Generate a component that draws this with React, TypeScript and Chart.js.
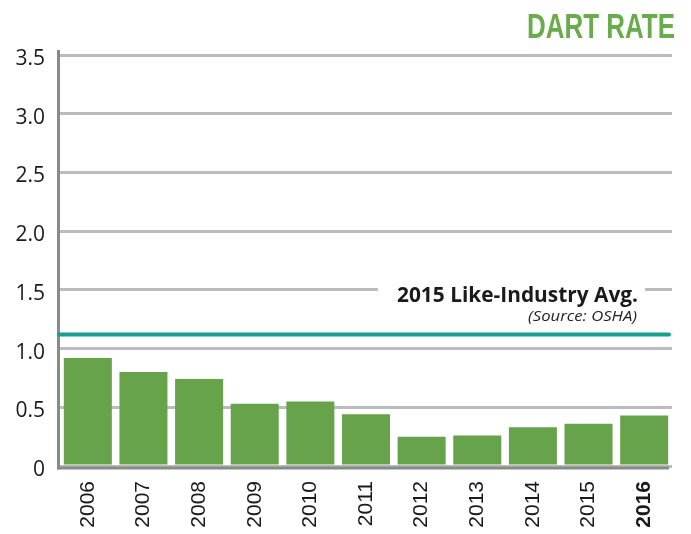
import React, { useEffect, useRef } from "react";
import { Chart, registerables } from "chart.js";

Chart.register(...registerables);

const categories = ["2006", "2007", "2008", "2009", "2010", "2011", "2012", "2013", "2014", "2015", "2016"];
const dartRates = [0.92, 0.8, 0.74, 0.53, 0.55, 0.44, 0.25, 0.26, 0.33, 0.36, 0.43];
const industryAvg = 1.12;
const yTicks = [0, 0.5, 1.0, 1.5, 2.0, 2.5, 3.0, 3.5];
const titleText = "DART RATE";
const avgLabel = "2015 Like-Industry Avg.";
const avgSource = "(Source: OSHA)";

const GREEN = "#67a34b";
const TITLE_GREEN = "#6aab4c";
const TEAL = "#17a08f";
const GRID = "#babcbf";
const AXIS = "#8a8a8a";

function drawScaledText(ctx: CanvasRenderingContext2D, text: string, font: string, color: string, rightX: number, baseY: number, width: number) {
  ctx.save();
  ctx.font = font;
  ctx.fillStyle = color;
  ctx.textAlign = "right";
  ctx.textBaseline = "alphabetic";
  const w = ctx.measureText(text).width;
  const s = width / w;
  ctx.translate(rightX, baseY);
  ctx.scale(s, 1);
  ctx.fillText(text, 0, 0);
  ctx.restore();
}

const overlayPlugin = {
  id: "overlay",
  afterDatasetsDraw(chart: any) {
    const ctx: CanvasRenderingContext2D = chart.ctx;
    const area = chart.chartArea;
    const y = chart.scales.y;
    ctx.save();
    ctx.strokeStyle = AXIS;
    ctx.lineWidth = 3;
    ctx.beginPath();
    ctx.moveTo(area.left - 1.5, area.top - 5);
    ctx.lineTo(area.left - 1.5, area.bottom + 3.5);
    ctx.stroke();
    ctx.beginPath();
    ctx.moveTo(area.left - 3, area.bottom + 2);
    ctx.lineTo(area.right - 3, area.bottom + 2);
    ctx.stroke();
    const ay = y.getPixelForValue(industryAvg);
    ctx.strokeStyle = TEAL;
    ctx.lineWidth = 4;
    ctx.lineCap = "round";
    ctx.beginPath();
    ctx.moveTo(area.left - 1, ay);
    ctx.lineTo(area.right - 3, ay);
    ctx.stroke();
    ctx.fillStyle = "#ffffff";
    ctx.fillRect(378, ay - 56, 267, 30);
    ctx.restore();
    drawScaledText(ctx, avgLabel, "bold 21px 'Open Sans'", "#1a1a1a", 638, ay - 32, 241);
    drawScaledText(ctx, avgSource, "italic 15px 'Open Sans'", "#222222", 637, ay - 13, 109);
    drawScaledText(ctx, titleText, "bold 35px 'Liberation Sans Narrow', 'Liberation Sans'", TITLE_GREEN, 675, 37.5, 148);
  },
};

export default function App() {
  const ref = useRef<HTMLCanvasElement | null>(null);
  useEffect(() => {
    if (!ref.current) return;
    const chart = new Chart(ref.current, {
      type: "bar",
      data: {
        labels: categories,
        datasets: [
          {
            data: dartRates,
            backgroundColor: GREEN,
            borderWidth: 0,
            barPercentage: 0.863,
            categoryPercentage: 1,
          },
        ],
      },
      options: {
        animation: false,
        responsive: true,
        maintainAspectRatio: false,
        layout: { padding: { top: 55, right: 19, left: 0, bottom: 0 } },
        plugins: { legend: { display: false }, tooltip: { enabled: false }, title: { display: false } },
        scales: {
          x: {
            grid: { display: false, drawTicks: false },
            border: { display: false },
            ticks: {
              maxRotation: 90,
              minRotation: 90,
              padding: 15,
              color: "#1a1a1a",
              font: (c: any) => ({
                family: "'Liberation Sans', Arial, sans-serif",
                size: 21,
                weight: c.index === categories.length - 1 ? "bold" : "normal",
              }),
            },
            afterFit: (s: any) => {
              s.height = 68;
            },
          },
          y: {
            min: 0,
            max: 3.5,
            afterBuildTicks: (s: any) => {
              s.ticks = yTicks.map((v) => ({ value: v }));
            },
            grid: { color: GRID, lineWidth: 3, drawTicks: false },
            border: { display: false },
            ticks: {
              padding: 15,
              labelOffset: 4,
              color: "#1a1a1a",
              font: { family: "'Open Sans', sans-serif", size: 21 },
              callback: (v: any) => (Number(v) === 0 ? "0" : Number(v).toFixed(1)),
            },
            afterFit: (s: any) => {
              s.width = 60;
            },
          },
        },
      },
      plugins: [overlayPlugin],
    });
    return () => chart.destroy();
  }, []);
  return (
    <div style={{ position: "absolute", left: 0, top: 0, width: 691, height: 534, background: "#fff" }}>
      <canvas ref={ref} />
    </div>
  );
}
